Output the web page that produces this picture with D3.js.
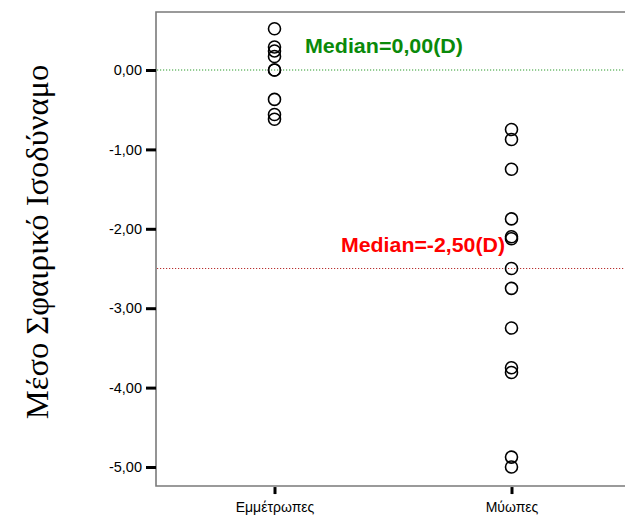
<!DOCTYPE html>
<html>
<head>
<meta charset="utf-8">
<script src="https://cdn.jsdelivr.net/npm/d3@7"></script>
<style>
  html, body { margin: 0; padding: 0; background: #fff; }
  svg { display: block; }
</style>
</head>
<body>
<svg id="chart" width="625" height="515"></svg>
<script>
// Groups and spherical-equivalent values (dioptres)
const groups = ["Εμμέτρωπες", "Μύωπες"];
const emmetropes = [0.52, 0.29, 0.24, 0.17, 0.00, 0.00, -0.37, -0.56, -0.62];
const myopes = [-0.75, -0.875, -1.25, -1.875, -2.10, -2.125, -2.50, -2.75, -3.25, -3.75, -3.81, -4.875, -5.00];
const yTicks = [0, -1, -2, -3, -4, -5];
const medianValues = [0.00, -2.50];
const medianLabels = ["Median=0,00(D)", "Median=-2,50(D)"];
const yTitle = "Μέσο Σφαιρικό Ισοδύναμο";

const svg = d3.select("#chart");
const W = 625;
const frameLeft = 156;

const y = d3.scaleLinear().domain([-5, 0]).range([467, 70]);
const x = d3.scalePoint().domain(groups).range([frameLeft, 630]).padding(0.5);

const frameTop = y(0.73), frameBottom = y(-5.24);
const fmt = v => d3.format(".2f")(v).replace(".", ",").replace("−", "-");

// Frame (open on the right)
svg.append("path")
  .attr("d", `M${W},${frameTop}H${frameLeft}V${frameBottom}H${W}`)
  .attr("fill", "none").attr("stroke", "#7a7a7a").attr("stroke-width", 1.6);

// Y axis
const yAxis = d3.axisLeft(y).tickValues(yTicks).tickSize(10).tickPadding(4).tickFormat(fmt);
const gy = svg.append("g").attr("transform", `translate(${frameLeft},0)`).call(yAxis);
gy.select(".domain").remove();
gy.selectAll(".tick line").attr("stroke", "#000").attr("stroke-width", 3);
gy.selectAll(".tick text").attr("font-family", "Liberation Sans, Arial, sans-serif")
  .attr("font-size", 14.5).attr("fill", "#000");

// X axis
const xAxis = d3.axisBottom(x).tickSize(7).tickPadding(8);
const gx = svg.append("g").attr("transform", `translate(0,${frameBottom + 1})`).call(xAxis);
gx.select(".domain").remove();
gx.selectAll(".tick line").attr("stroke", "#000").attr("stroke-width", 3);
gx.selectAll(".tick text").attr("font-family", "Liberation Sans, Arial, sans-serif")
  .attr("font-size", 14).attr("fill", "#000");

// Median reference lines
const lineColors = ["#2a9a2a", "#b83030"];
const textColors = ["#0a8a0a", "#ff0000"];
medianValues.forEach((v, i) => {
  svg.append("line")
    .attr("x1", frameLeft + 1).attr("x2", W)
    .attr("y1", y(v)).attr("y2", y(v))
    .attr("stroke", lineColors[i]).attr("stroke-width", 1)
    .attr("stroke-dasharray", "1.2,1.8");
});

// Median labels
const labelX = [305, 341];
const labelLen = [158, 164];
medianValues.forEach((v, i) => {
  svg.append("text")
    .attr("x", labelX[i]).attr("y", y(v) - 17)
    .attr("font-family", "Liberation Sans, Arial, sans-serif").attr("font-weight", "bold")
    .attr("font-size", 21).attr("fill", textColors[i])
    .attr("textLength", labelLen[i]).attr("lengthAdjust", "spacingAndGlyphs")
    .text(medianLabels[i]);
});

// Points
const pts = emmetropes.map(v => ({ g: groups[0], v }))
  .concat(myopes.map(v => ({ g: groups[1], v })));
svg.append("g").selectAll("circle").data(pts).join("circle")
  .attr("cx", d => x(d.g)).attr("cy", d => y(d.v)).attr("r", 6)
  .attr("fill", "none").attr("stroke", "#000").attr("stroke-width", 1.6);

// Y axis title
svg.append("text")
  .attr("transform", `translate(48,242) rotate(-90)`)
  .attr("text-anchor", "middle")
  .attr("font-family", "Liberation Serif, Times New Roman, serif")
  .attr("font-size", 32.5).attr("fill", "#000")
  .text(yTitle);
</script>
</body>
</html>
